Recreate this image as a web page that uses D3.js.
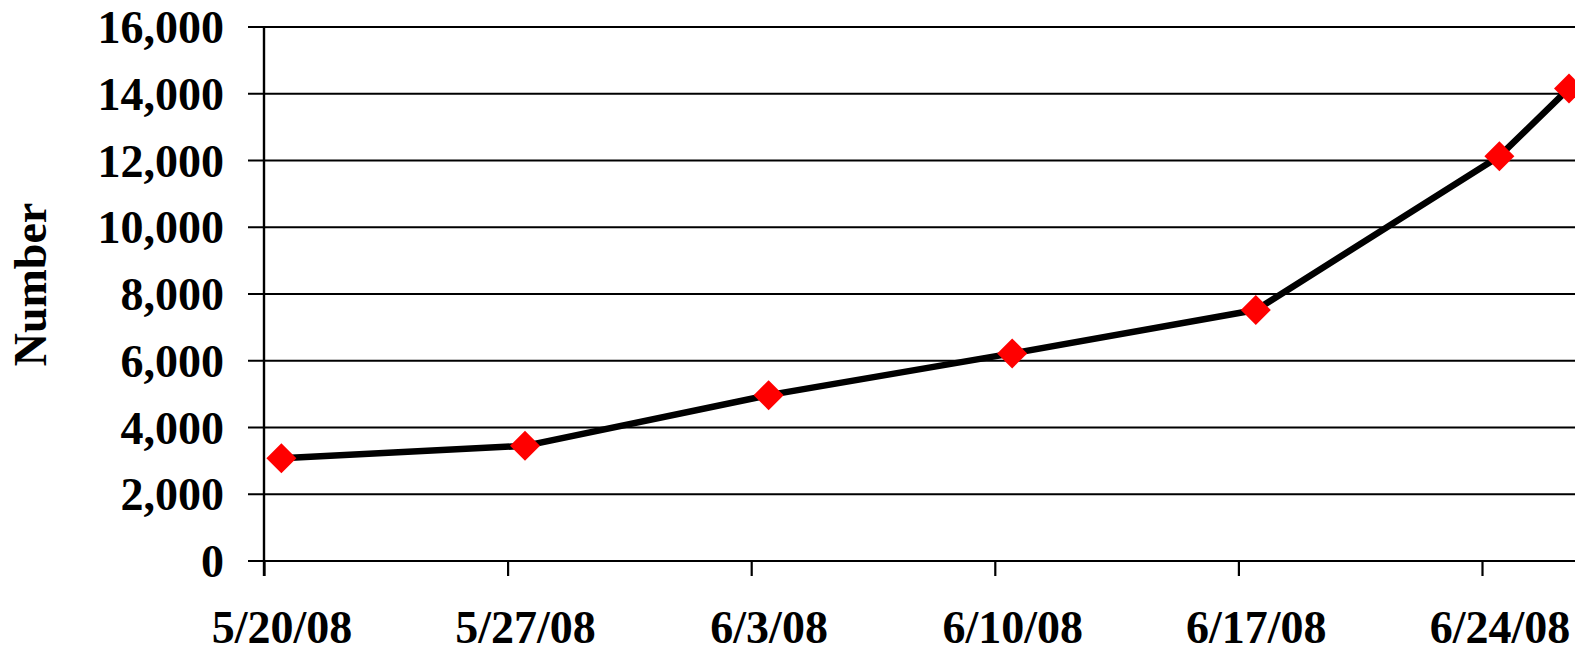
<!DOCTYPE html>
<html>
<head>
<meta charset="utf-8">
<script src="https://cdn.jsdelivr.net/npm/d3@7"></script>
<style>
  html, body { margin: 0; padding: 0; background: #fff; overflow: hidden; }
  svg { display: block; }
  text { font-family: "Liberation Serif", "Times New Roman", serif; font-weight: bold; fill: #000; }
</style>
</head>
<body>
<svg id="chart" width="1575" height="653"></svg>
<script>
// ---- data ----
const dates = ["2008-05-20", "2008-05-27", "2008-06-03", "2008-06-10", "2008-06-17", "2008-06-24", "2008-06-26"];
const values = [3080, 3450, 4970, 6220, 7520, 12130, 14160];
const xTickDates = ["2008-05-20", "2008-05-27", "2008-06-03", "2008-06-10", "2008-06-17", "2008-06-24"];
const xTickLabels = ["5/20/08", "5/27/08", "6/3/08", "6/10/08", "6/17/08", "6/24/08"];
const yTicks = [0, 2000, 4000, 6000, 8000, 10000, 12000, 14000, 16000];
const yLabel = "Number";
const xDomain = ["2008-05-20", "2008-06-27"];

// ---- layout ----
const mLeft = 264, mTop = 27, mBottom = 561;
const dayPx = 34.8;
const parse = d3.utcParse("%Y-%m-%d");
const halfDay = 12 * 3600 * 1000;

const x = d3.scaleUtc()
  .domain(xDomain.map(parse))
  .range([mLeft, mLeft + 38 * dayPx]);
const y = d3.scaleLinear().domain([0, 16000]).range([mBottom, mTop]);

const svg = d3.select("#chart");
const W = 1575;

// gridlines
svg.append("g").selectAll("line").data(yTicks).join("line")
  .attr("x1", mLeft - 16).attr("x2", W + 20)
  .attr("y1", d => y(d)).attr("y2", d => y(d))
  .attr("stroke", "#000").attr("stroke-width", 2.2);

// y axis
const yAxis = d3.axisLeft(y).tickValues(yTicks).tickSize(16).tickPadding(24)
  .tickFormat(d3.format(","));
const gy = svg.append("g").attr("transform", `translate(${mLeft},0)`).call(yAxis);
gy.select(".domain").remove();
gy.selectAll(".tick line").remove();
gy.selectAll(".tick text")
  .style("font-size", "46px")
  .style("font-family", "'Liberation Serif', 'Times New Roman', serif")
  .style("font-weight", "bold")
  .attr("fill", "#000")
  .attr("x", -40)
  .attr("dy", "0.34em");
svg.append("line").attr("x1", mLeft).attr("x2", mLeft).attr("y1", mTop).attr("y2", mBottom + 15)
  .attr("stroke", "#000").attr("stroke-width", 2.4);

// x axis
const xAxis = d3.axisBottom(x).tickValues(xTickDates.map(parse)).tickSize(15)
  .tickFormat((d, i) => xTickLabels[i]);
const gx = svg.append("g").attr("transform", `translate(0,${mBottom})`).call(xAxis);
gx.select(".domain").remove();
gx.selectAll(".tick line").attr("stroke", "#000").attr("stroke-width", 2.2);
gx.selectAll(".tick text")
  .style("font-size", "46px")
  .style("font-family", "'Liberation Serif', 'Times New Roman', serif")
  .style("font-weight", "bold")
  .attr("fill", "#000")
  .attr("x", x(new Date(parse(xTickDates[0]).getTime() + halfDay)) - x(parse(xTickDates[0])))
  .attr("y", 82)
  .attr("dy", "0");

// y label
svg.append("text")
  .attr("transform", `translate(46,284.5) rotate(-90)`)
  .attr("text-anchor", "middle")
  .style("font-size", "46px")
  .text(yLabel);

// line + markers
const pts = dates.map((d, i) => ({ t: new Date(parse(d).getTime() + halfDay), v: values[i] }));
const line = d3.line().x(d => x(d.t)).y(d => y(d.v));
svg.append("path").datum(pts).attr("d", line)
  .attr("fill", "none").attr("stroke", "#000").attr("stroke-width", 6.5)
  .attr("stroke-linejoin", "round");

const sym = d3.symbol().type(d3.symbolSquare).size(450);
svg.append("g").selectAll("path").data(pts).join("path")
  .attr("d", sym)
  .attr("transform", d => `translate(${x(d.t)},${y(d.v)}) rotate(45)`)
  .attr("fill", "#ff0000");
</script>
</body>
</html>
